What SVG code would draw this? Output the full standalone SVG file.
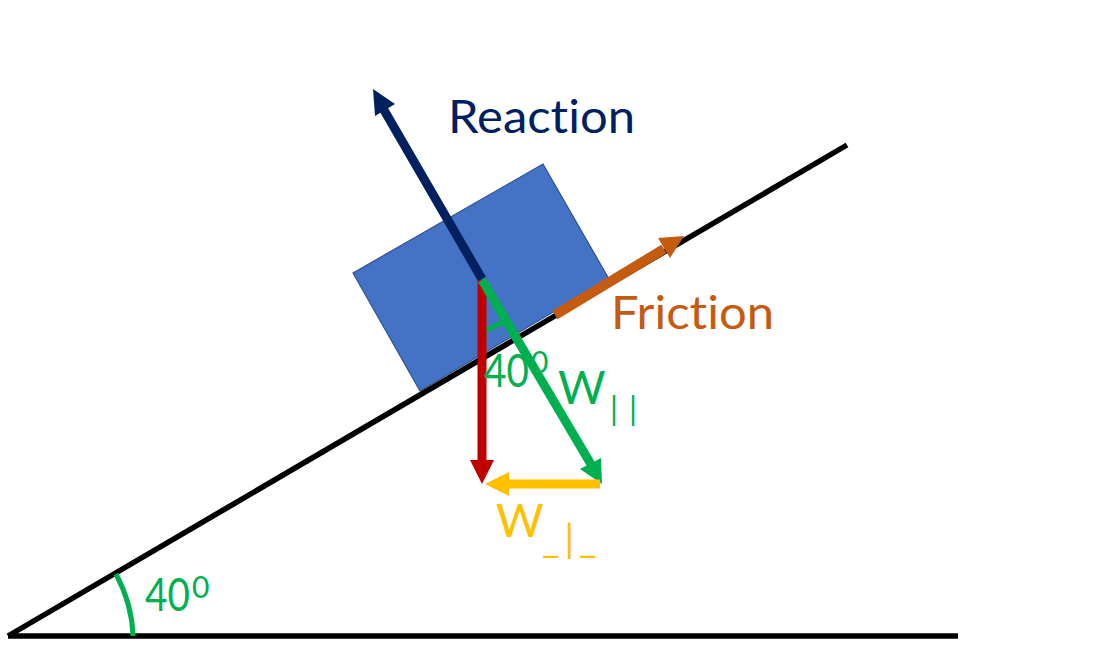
<svg xmlns="http://www.w3.org/2000/svg" width="1117" height="661" viewBox="0 0 1117 661">
<style>
text{font-family:Lato,"Liberation Sans",sans-serif;font-variant-ligatures:none}
.l{font-size:46px}
.s{font-size:30px}
.g{fill:#00b050}
.y{fill:#ffc000}
.k{fill:none;stroke:#000;stroke-width:5.5}
.a{fill:none;stroke:#00b050;stroke-width:5}
.f{fill:none;stroke-width:9}
.o{fill:none;stroke:#c55a11;stroke-width:10}
</style>
<rect width="1117" height="661" fill="#fff"/>
<g id="block"><polygon points="353,273 543,164 609,279 420,391" fill="#4472c4" stroke="#2f528f" stroke-width="1.2"/></g>
<g id="connectors">
<path class="k" d="M8,636L847,145"/>
<path class="k" d="M8,636H958"/>
<path class="a" d="M116,574Q132,604 133,636"/>
<path class="a" d="M483,332L503,322"/>
<path class="f" stroke="#002060" d="M482,279L384,110"/>
<polygon points="373,89 395,104 375,116" fill="#002060"/>
<path class="f" stroke="#c00000" d="M482,280V462"/>
<polygon points="470,460 494,460 482,484" fill="#c00000"/>
<path class="f" stroke="#00b050" d="M482,280L592,466"/>
<polygon points="602,484 580,469 601,458" fill="#00b050"/>
<path class="f" stroke="#ffc000" d="M600,484H508"/>
<polygon points="485,484 509,472 509,496" fill="#ffc000"/>
<path class="o" d="M555,315L664,249"/>
<polygon points="684,236 658,238 670,258" fill="#c55a11"/>
</g>
<g id="labels">
<text class="l" x="448" y="133" fill="#002060" textLength="187" lengthAdjust="spacingAndGlyphs">Reaction</text>
<text class="l" x="611" y="329" fill="#c55a11" textLength="163" lengthAdjust="spacingAndGlyphs">Friction</text>
<text class="g l" transform="matrix(.84 0 0 1 484 387)">40</text><text class="g s" x="531" y="373">0</text>
<text class="g l" x="558" y="404">W<tspan x="610" y="420" font-size="32" letter-spacing="11">||</tspan></text>
<text class="y l" x="496" y="537">W<tspan x="542" y="552" font-size="38" letter-spacing="5">_|_</tspan></text>
<text class="g l" transform="matrix(.84 0 0 1 145 611)">40</text><text class="g s" x="192" y="598">0</text>
</g>
</svg>
